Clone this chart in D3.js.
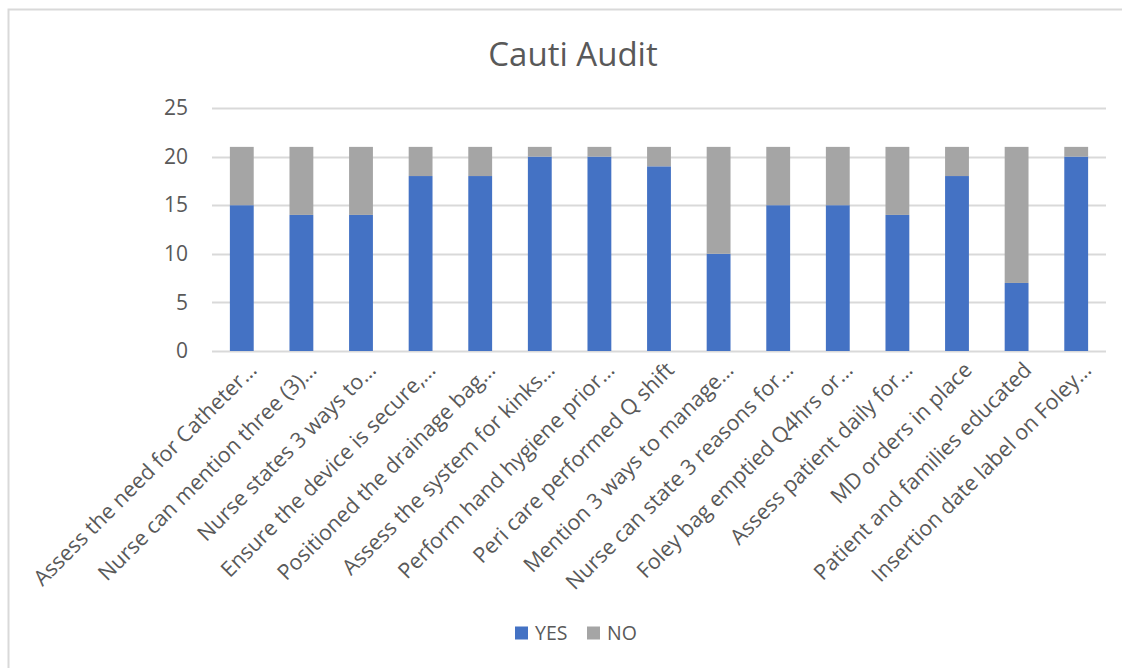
<!DOCTYPE html>
<html>
<head>
<meta charset="utf-8">
<script src="https://cdn.jsdelivr.net/npm/d3@7"></script>
<style>
  body { margin: 0; background: #fff; }
  svg { display: block; font-family: "Open Sans", sans-serif; }
</style>
</head>
<body>
<div id="chart"></div>
<script>
// categories as shown (Excel truncated the long ones)
const categories = [
  'Assess the need for Catheter…',
  'Nurse can mention three (3)…',
  'Nurse states 3 ways to…',
  'Ensure the device is secure,…',
  'Positioned the drainage bag…',
  'Assess the system for kinks…',
  'Perform hand hygiene prior…',
  'Peri care performed Q shift',
  'Mention 3 ways to manage…',
  'Nurse can state 3 reasons for…',
  'Foley bag emptied Q4hrs or…',
  'Assess patient daily for…',
  'MD orders in place',
  'Patient and families educated',
  'Insertion date label on Foley…'
];
const yesValues = [15, 14, 14, 18, 18, 20, 20, 19, 10, 15, 15, 14, 18, 7, 20];
const noValues  = [6, 7, 7, 3, 3, 1, 1, 2, 11, 6, 6, 7, 3, 14, 1];
const seriesNames = ['YES', 'NO'];
const yTicks = [0, 5, 10, 15, 20, 25];

const W = 1122, H = 668;
const colors = { YES: '#4472C4', NO: '#A5A5A5' };
const textColor = '#595959';

const svg = d3.select('#chart').append('svg')
  .attr('width', W)
  .attr('height', H);

// chart area frame (only top and left edges are visible in the crop)
svg.append('path')
  .attr('d', `M8.5,${H} V9.5 H${W}`)
  .attr('fill', 'none')
  .attr('stroke', '#d9d9d9')
  .attr('stroke-width', 2);

const plot = { left: 212, right: 1106, top: 108, bottom: 351 };

const x = d3.scaleBand()
  .domain(categories)
  .range([plot.left, plot.right])
  .paddingInner(0.6)
  .paddingOuter(0.3);

const y = d3.scaleLinear()
  .domain([0, 25])
  .range([plot.bottom, plot.top]);

// title
svg.append('text')
  .attr('x', 573)
  .attr('y', 66)
  .attr('text-anchor', 'middle')
  .attr('font-size', 33)
  .attr('fill', textColor)
  .text('Cauti Audit');

// gridlines
svg.append('g')
  .selectAll('line')
  .data(yTicks)
  .join('line')
  .attr('x1', plot.left)
  .attr('x2', plot.right)
  .attr('y1', d => Math.round(y(d)) + 0.5)
  .attr('y2', d => Math.round(y(d)) + 0.5)
  .attr('stroke', '#d9d9d9')
  .attr('stroke-width', 2);

// y axis labels
const yAxis = svg.append('g')
  .attr('transform', `translate(${plot.left - 24},0)`)
  .call(d3.axisLeft(y).tickValues(yTicks).tickSize(0).tickPadding(0));
yAxis.select('.domain').remove();
yAxis.selectAll('text')
  .attr('font-size', 21)
  .attr('font-family', '"Open Sans", sans-serif')
  .attr('fill', textColor);

// stacked bars
const rows = categories.map((c, i) => ({ cat: c, YES: yesValues[i], NO: noValues[i] }));
const stacked = d3.stack().keys(seriesNames)(rows);

svg.append('g')
  .selectAll('g')
  .data(stacked)
  .join('g')
  .attr('fill', d => colors[d.key])
  .selectAll('rect')
  .data(d => d)
  .join('rect')
  .attr('x', d => x(d.data.cat))
  .attr('width', x.bandwidth())
  .attr('y', d => y(d[1]))
  .attr('height', d => y(d[0]) - y(d[1]));

// category labels, rotated 45 degrees
const xAxis = svg.append('g')
  .attr('transform', `translate(0,${plot.bottom})`)
  .call(d3.axisBottom(x).tickSize(0).tickPadding(0));
xAxis.select('.domain').remove();
xAxis.selectAll('text')
  .attr('font-size', 21.5)
  .attr('font-family', '"Open Sans", sans-serif')
  .attr('fill', textColor)
  .attr('text-anchor', 'end')
  .attr('dy', '0.35em')
  .attr('transform', 'translate(11,15) rotate(-45)');

// legend
const legend = svg.append('g').attr('transform', 'translate(515,633)');
const legendPos = [0, 72];
seriesNames.forEach((name, i) => {
  const g = legend.append('g').attr('transform', `translate(${legendPos[i]},0)`);
  g.append('rect')
    .attr('x', 0)
    .attr('y', -6.5)
    .attr('width', 13)
    .attr('height', 13)
    .attr('fill', colors[name]);
  g.append('text')
    .attr('x', 20)
    .attr('y', 0)
    .attr('dy', '0.35em')
    .attr('font-size', 19.5)
    .attr('fill', textColor)
    .text(name);
});
</script>
</body>
</html>
